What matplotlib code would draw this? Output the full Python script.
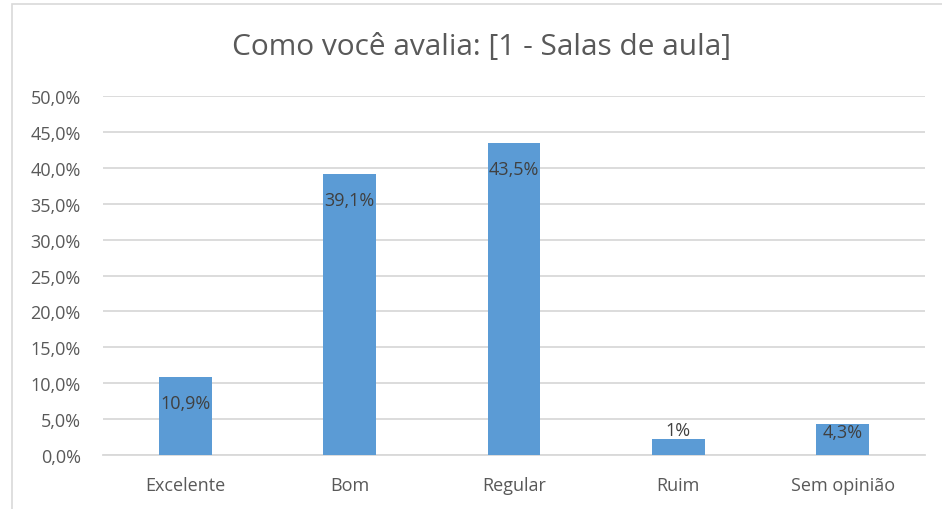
import matplotlib
matplotlib.use("Agg")
import matplotlib.pyplot as plt
from matplotlib.patches import Rectangle
from matplotlib.ticker import FuncFormatter, MultipleLocator

categories = ["Excelente", "Bom", "Regular", "Ruim", "Sem opinião"]
values = [10.9, 39.1, 43.5, 2.2, 4.3]
value_labels = ["10,9%", "39,1%", "43,5%", "1%", "4,3%"]
label_offsets = [-26, -26, -26, 9, -8]  # pixels relative to bar top (style)

title = "Como você avalia: [1 - Salas de aula]"

plt.rcParams['font.family'] = ['Open Sans', 'DejaVu Sans']
txt = "#595959"
grid = "#d9d9d9"
bar_color = "#5b9bd5"

fig = plt.figure(figsize=(9.42, 5.10), dpi=100)
fig.patches.append(Rectangle((12/942, -0.1), 1.2, 1 - 5/510 + 0.1, transform=fig.transFigure,
                             fill=False, edgecolor=grid, linewidth=1.2))
ax = fig.add_axes([103/942, 1 - 456/510, 822/942, 359/510])

x = range(len(categories))
ax.bar(x, values, width=0.32, color=bar_color, zorder=3)
ax.set_xlim(-0.5, len(categories) - 0.5)
ax.set_ylim(0, 50)
ax.yaxis.set_major_locator(MultipleLocator(5))
ax.yaxis.set_major_formatter(FuncFormatter(lambda v, p: f"{v:.1f}".replace(".", ",") + "%"))
ax.grid(axis="y", color=grid, linewidth=1.3, zorder=0)
ax.set_axisbelow(True)
for s in ["top", "right", "left"]:
    ax.spines[s].set_visible(False)
ax.spines["bottom"].set_color(grid)
ax.spines["bottom"].set_linewidth(1.3)
ax.tick_params(axis="both", length=0, colors=txt, labelsize=13)
ax.tick_params(axis="y", pad=16)
ax.tick_params(axis="x", pad=15)
ax.set_xticks(list(x))
ax.set_xticklabels(categories)

for i, (v, lab, off) in enumerate(zip(values, value_labels, label_offsets)):
    ax.annotate(lab, (i, v), xytext=(0, off * 0.72), textcoords="offset points",
                ha="center", va="center", fontsize=13, color="#404040", zorder=4)

fig.text(482/942, 1 - 48/510, title, ha="center", va="center", fontsize=21.5, color=txt)

fig.savefig("out.png", dpi=100)
